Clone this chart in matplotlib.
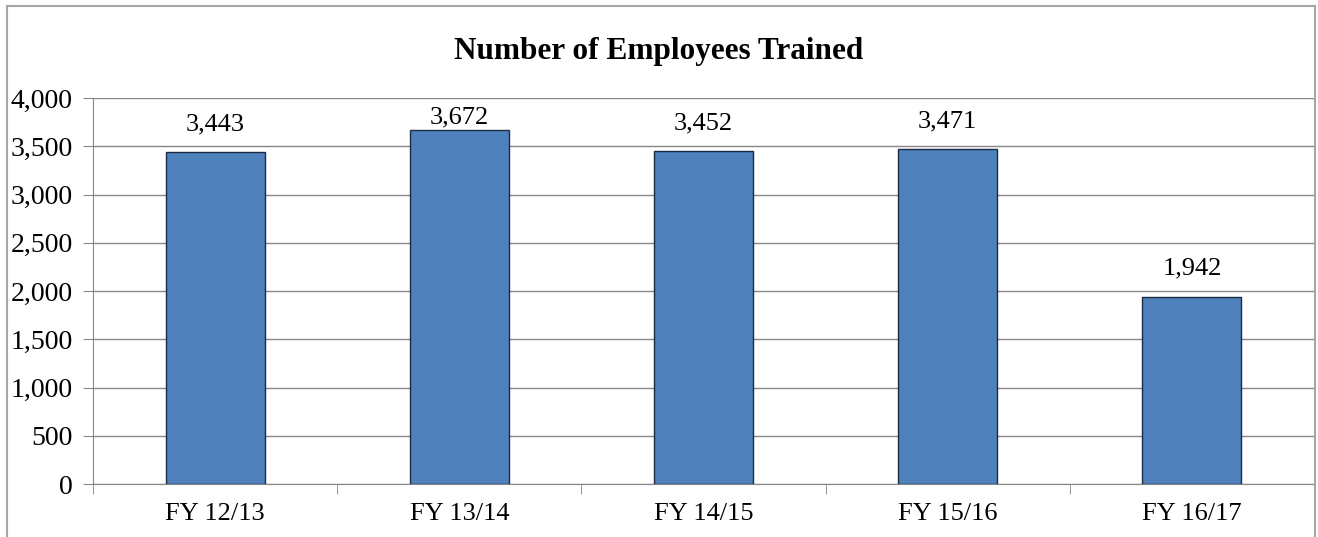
import matplotlib.pyplot as plt
from matplotlib.patches import Rectangle
from matplotlib.ticker import FuncFormatter, MultipleLocator

# data
years = ['FY 12/13', 'FY 13/14', 'FY 14/15', 'FY 15/16', 'FY 16/17']
trained = [3443, 3672, 3452, 3471, 1942]

plt.rcParams['font.family'] = ['Liberation Serif', 'DejaVu Serif']

W, H = 1318, 537
fig = plt.figure(figsize=(W / 100, H / 100), dpi=100)
ax = fig.add_axes([93 / W, 1 - 484 / H, (1314 - 93) / W, (484 - 98) / H])

# outer chart border (bottom edge is cut off in the original)
fig.patches.append(Rectangle((7 / W, -0.05), (1314.5 - 7) / W, 1.05 - 5.5 / H,
                             transform=fig.transFigure, fill=False,
                             edgecolor='#a6a6a6', lw=1.5))

x = list(range(len(years)))
ax.bar(x, trained, width=0.405, color='#4f81bd', edgecolor='#1b2a45', lw=1, zorder=3)

ymax = 4000
for xi, v in zip(x, trained):
    if v + 360 > ymax:
        # keep label inside plot area like excel does
        ax.annotate(f'{v:,}', (xi, ymax), xytext=(0, -6), textcoords='offset points',
                    ha='center', va='top', fontsize=19)
    else:
        ax.annotate(f'{v:,}', (xi, v), xytext=(0, 12), textcoords='offset points',
                    ha='center', va='bottom', fontsize=19)

ax.set_xlim(-0.5, len(years) - 0.5)
ax.set_ylim(0, ymax)
ax.yaxis.set_major_locator(MultipleLocator(500))
ax.yaxis.set_major_formatter(FuncFormatter(lambda v, p: f'{int(v):,}'))
ax.grid(axis='y', color='#878787', lw=1, zorder=0)

ax.set_xticks(x)
ax.set_xticklabels(years, fontsize=19)
ax.set_xticks([i - 0.5 for i in range(len(years) + 1)], minor=True)
ax.tick_params(axis='x', which='major', length=0, pad=14)
ax.tick_params(axis='x', which='minor', length=7, color='#878787', direction='out')
ax.tick_params(axis='y', length=7, color='#878787', labelsize=20, pad=7.5)

for s in ['top', 'right']:
    ax.spines[s].set_visible(False)
for s in ['left', 'bottom']:
    ax.spines[s].set_color('#878787')

fig.text(0.5, 1 - 52 / H, 'Number of Employees Trained', ha='center', va='center',
         fontsize=22.5, fontweight='bold')

fig.savefig('out.png', dpi=100)
